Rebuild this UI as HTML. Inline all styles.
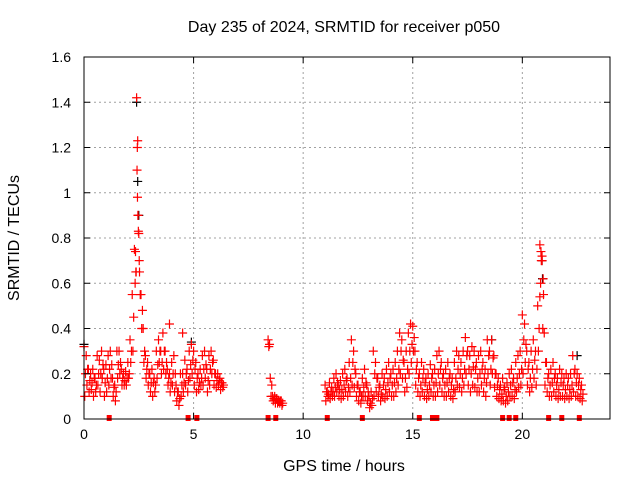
<!DOCTYPE html>
<html><head><meta charset="utf-8"><style>
body{margin:0;background:#fff;}
svg text{font-family:"Liberation Sans",sans-serif;font-size:14px;fill:#000;}
svg text.ttl{font-size:16px;}
</style></head><body>
<svg id="chart" width="640" height="480" xmlns="http://www.w3.org/2000/svg">
<rect width="640" height="480" fill="#fff"/>
<text class="ttl" x="344" y="32" text-anchor="middle">Day 235 of 2024, SRMTID for receiver p050</text>
<text class="ttl" x="344" y="471" text-anchor="middle">GPS time / hours</text>
<text class="ttl" x="19" y="238" text-anchor="middle" transform="rotate(-90 19 238)">SRMTID / TECUs</text>
<g id="grid"></g><g id="marks"></g><g id="axes"></g>
</svg>
<script>
const xTicks=[0,5,10,15,20];
const yTicks=[0,0.2,0.4,0.6,0.8,1,1.2,1.4,1.6];
const yTickLabels=["0","0.2","0.4","0.6","0.8","1","1.2","1.4","1.6"];
const seg1Start=0.0;
const seg1A=[.32,.28,.22,.2,.22,.18,.28,.26,.3,.22,.24,.28,.3,.18,.15,.3,.3,.22,.2,.21,.25,.35,.55,.75,1.42,.82,.55,.4,.28,.25,.2,.22,.18,.3,.35,.3,.38,.3,.22,.2,.25,.28,.15,.12,.2,.2,.26,.22,.3,.33,.3,.25,.2,.22,.28,.3,.22,.28,.3,.26,.2,.2,.18,.16];
const seg1B=[.1,.15,.12,.13,.1,.12,.15,.12,.18,.1,.12,.15,.18,.1,.08,.18,.2,.15,.15,.15,.18,.25,.3,.6,1.2,.65,.4,.25,.18,.15,.12,.1,.12,.18,.25,.2,.22,.2,.15,.12,.15,.12,.08,.06,.1,.12,.15,.12,.18,.2,.15,.12,.13,.15,.15,.18,.12,.15,.2,.15,.14,.15,.13,.14];
const seg1C=[.2,.22,.17,.16,.18,.15,.2,.2,.24,.16,.18,.22,.24,.14,.12,.24,.25,.18,.17,.18,.2,.3,.45,.65,.9,.55,.48,.3,.22,.2,.16,.16,.15,.24,.3,.25,.3,.25,.18,.16,.2,.2,.12,.09,.15,.16,.2,.17,.24,.26,.22,.18,.16,.18,.22,.24,.17,.22,.25,.2,.17,.17,.16,.15];
const seg2Start=8.4;
const seg2A=[.35,.18,.1,.1,.09,.08,.08];
const seg2B=[.32,.1,.08,.07,.07,.07,.06];
const seg2C=[.33,.15,.09,.09,.08,.08,.07];
const seg3Start=11.0;
const seg3A=[.15,.12,.16,.14,.18,.2,.15,.17,.2,.22,
.18,.25,.35,.3,.2,.15,.12,.18,.22,.15,
.1,.12,.3,.25,.18,.15,.2,.18,.22,.25,
.2,.22,.25,.3,.38,.35,.25,.3,.38,.42,
.41,.3,.25,.2,.25,.22,.18,.2,.24,.2,
.22,.28,.3,.25,.2,.22,.25,.2,.18,.25,
.3,.28,.25,.3,.36,.3,.28,.32,.3,.25,
.28,.3,.25,.22,.35,.3,.35,.28,.2,.18,
.15,.18,.14,.16,.2,.22,.18,.25,.28,.3,
.46,.42,.3,.25,.3,.35,.3,.5,.77,.72,
.38,.25,.2,.22,.25,.2,.18,.22,.2,.18,
.2,.18,.2,.28,.22,.2,.18,.15];
const seg3B=[.08,.1,.09,.1,.1,.12,.1,.09,.1,.12,
.1,.12,.15,.14,.1,.08,.07,.1,.1,.08,
.05,.06,.1,.12,.1,.08,.1,.09,.1,.12,
.1,.1,.12,.15,.2,.18,.12,.14,.2,.25,
.3,.15,.12,.1,.12,.1,.09,.1,.12,.1,
.1,.12,.15,.12,.1,.1,.12,.1,.09,.12,
.15,.14,.12,.15,.2,.15,.12,.15,.14,.12,
.12,.15,.12,.1,.2,.15,.2,.14,.1,.09,
.08,.08,.07,.08,.1,.1,.09,.12,.14,.15,
.2,.25,.15,.12,.14,.18,.15,.3,.6,.4,
.15,.12,.1,.1,.12,.1,.09,.1,.1,.09,
.1,.09,.1,.12,.1,.1,.09,.08];
const seg3C=[.12,.11,.12,.12,.14,.16,.13,.13,.15,.17,
.14,.18,.25,.22,.15,.12,.1,.14,.16,.12,
.07,.09,.2,.18,.14,.11,.15,.13,.16,.18,
.15,.16,.18,.22,.3,.26,.18,.22,.3,.33,
.36,.22,.18,.15,.18,.16,.13,.15,.18,.15,
.16,.2,.22,.18,.15,.16,.18,.15,.13,.18,
.22,.2,.18,.22,.28,.22,.2,.23,.22,.18,
.2,.22,.18,.16,.28,.22,.27,.2,.15,.13,
.11,.13,.1,.12,.15,.16,.13,.18,.2,.22,
.35,.33,.22,.18,.22,.26,.22,.4,.7,.55,
.25,.18,.15,.16,.18,.15,.13,.16,.15,.13,
.15,.13,.15,.2,.16,.15,.13,.11];
const extraT=[2.35,2.38,2.42,2.44,2.46,2.48,2.52,2.45,20.85,20.9,20.95,20.8,3.9,4.5];
const extraV=[0.74,0.65,1.1,0.98,0.9,0.83,0.7,1.23,0.74,0.7,0.62,0.54,0.42,0.38];
const blackT=[2.4,2.45,2.5,20.9,20.92,22.5,4.9,18.6,0.0];
const blackV=[1.4,1.05,0.9,0.7,0.62,0.28,0.34,0.35,0.33];
const zeroT=[1.15,4.75,5.15,8.4,8.75,11.1,12.7,15.3,15.9,16.1,19.1,19.4,19.7,21.2,21.8,22.6];

const X0=84,X1=610,Y0=419,Y1=57,XMAX=24,YMAX=1.6;
const xs=t=>X0+(X1-X0)*t/XMAX;
const ys=v=>Y0-(Y0-Y1)*v/YMAX;
const NS="http://www.w3.org/2000/svg";
function mk(tag,attrs,parent){const e=document.createElementNS(NS,tag);for(const k in attrs)e.setAttribute(k,attrs[k]);parent.appendChild(e);return e;}
const grid=document.getElementById('grid'),marks=document.getElementById('marks'),axes=document.getElementById('axes');
xTicks.forEach(t=>{
 if(t>0){const g=mk('line',{x1:xs(t),x2:xs(t),y1:Y0,y2:Y1,stroke:'#a0a0a0','stroke-dasharray':'2,3'},grid);
 
 }
 mk('line',{x1:xs(t),x2:xs(t),y1:Y0,y2:Y0-6,stroke:'#000'},axes);
 mk('line',{x1:xs(t),x2:xs(t),y1:Y1,y2:Y1+6,stroke:'#000'},axes);
 const l=mk('text',{x:xs(t),y:Y0+20,'text-anchor':'middle'},axes);l.textContent=t;
 
 
});
yTicks.forEach((v,i)=>{
 if(v>0&&v<YMAX){const g=mk('line',{x1:X0,x2:X1,y1:ys(v),y2:ys(v),stroke:'#a0a0a0','stroke-dasharray':'2,3'},grid);
 
 }
 mk('line',{x1:X0,x2:X0+6,y1:ys(v),y2:ys(v),stroke:'#000'},axes);
 mk('line',{x1:X1,x2:X1-6,y1:ys(v),y2:ys(v),stroke:'#000'},axes);
 const l=mk('text',{x:X0-13,y:ys(v)+5,'text-anchor':'end'},axes);l.textContent=yTickLabels[i];
 
 
});
const fr=mk('rect',{x:X0,y:Y1,width:X1-X0,height:Y0-Y1,fill:'none',stroke:'#000'},axes);


function cross(t,v,col){
 const x=xs(t),y=ys(v);
 const p=mk('path',{d:`M${x-4.5},${y}h9M${x},${y-4.5}v9`,stroke:col,'stroke-width':1.2,fill:'none'},marks);
 
 
}
blackT.forEach((t,i)=>cross(t,blackV[i],'#000'));
[[seg1Start,seg1A,0],[seg1Start,seg1B,0.033],[seg1Start,seg1C,0.066],
 [seg2Start,seg2A,0],[seg2Start,seg2B,0.033],[seg2Start,seg2C,0.066],
 [seg3Start,seg3A,0],[seg3Start,seg3B,0.033],[seg3Start,seg3C,0.066]].forEach(([s,arr,off])=>{
 arr.forEach((v,i)=>cross(s+i*0.1+off,v,'#ff0000'));
});
extraT.forEach((t,i)=>cross(t,extraV[i],'#ff0000'));
zeroT.forEach(t=>{
 const r=mk('rect',{x:xs(t)-2.5,y:Y0-4,width:5,height:6,fill:'#ff0000'},marks);
 
 
});
</script>
</body></html>
